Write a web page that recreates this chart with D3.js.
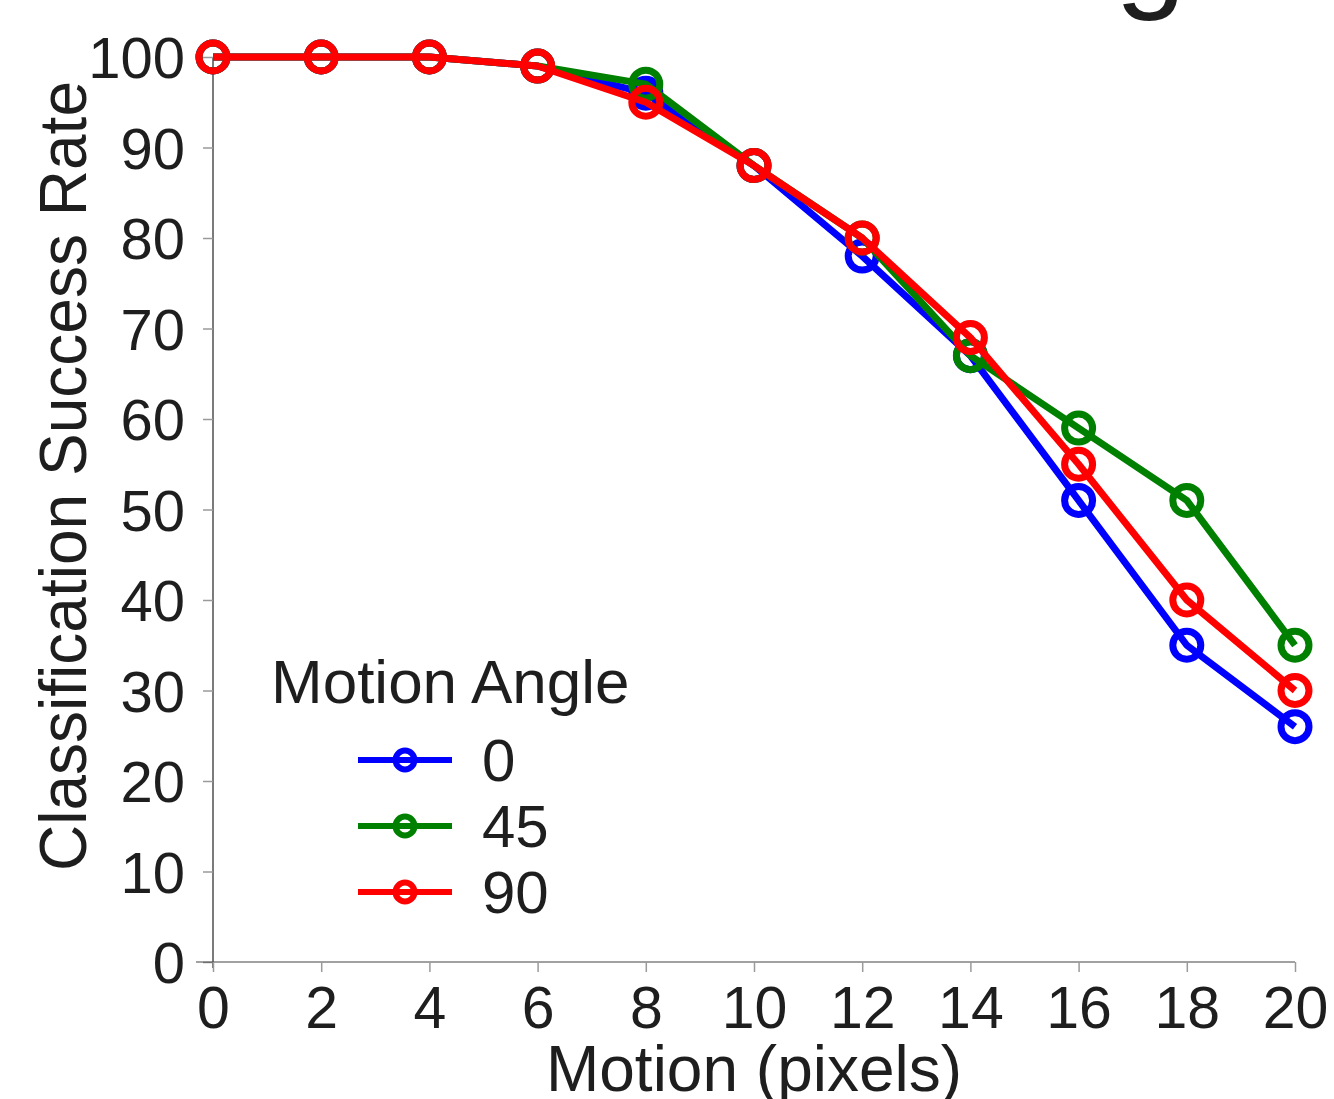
<!DOCTYPE html>
<html>
<head>
<meta charset="utf-8">
<script src="https://cdn.jsdelivr.net/npm/d3@7"></script>
<style>
  html, body { margin: 0; padding: 0; background: #fff; }
  svg { display: block; font-family: Arial, "Liberation Sans", sans-serif; }
</style>
</head>
<body>
<svg id="chart" width="1334" height="1099"></svg>
<script>
// ---- data ----
const motion = [0, 2, 4, 6, 8, 10, 12, 14, 16, 18, 20];
const angle0  = [100, 100, 100, 99, 96, 88, 78, 67, 51, 35, 26];
const angle45 = [100, 100, 100, 99, 97, 88, 80, 67, 59, 51, 35];
const angle90 = [100, 100, 100, 99, 95, 88, 80, 69, 55, 40, 30];
const seriesNames = ["0", "45", "90"];
const seriesColors = ["#0000ff", "#008000", "#ff0000"];
const yTicks = [0, 10, 20, 30, 40, 50, 60, 70, 80, 90, 100];
const xTicks = [0, 2, 4, 6, 8, 10, 12, 14, 16, 18, 20];

const series = [angle0, angle45, angle90].map((vals, i) => ({
  name: seriesNames[i], color: seriesColors[i],
  points: motion.map((m, j) => ({ x: m, y: vals[j] }))
}));

const svg = d3.select("#chart");
const x = d3.scaleLinear().domain([0, 20]).range([213, 1295]);
const y = d3.scaleLinear().domain([0, 100]).range([962, 57]);
const textColor = "#1e1e1e";

// partial title glyph cut off at top
svg.append("text").attr("x", 1115).attr("y", -6)
  .attr("font-size", 128).attr("fill", textColor).text("g");

// y axis
const yAxis = svg.append("g").attr("transform", "translate(213,0)")
  .call(d3.axisLeft(y).tickValues(yTicks).tickSize(10).tickPadding(18).tickSizeOuter(0));
yAxis.select(".domain").attr("stroke", "#222").attr("stroke-width", 1.2)
  .attr("d", `M0,${y(100)}V${y(0) + 6}`);
yAxis.selectAll(".tick line").attr("stroke", "#9a9a9a").attr("stroke-width", 1.5);
yAxis.selectAll(".tick text").attr("font-size", 58).attr("fill", textColor)
  .attr("font-family", "Arial, 'Liberation Sans', sans-serif").attr("dy", "0.36em");

// x axis
const xAxis = svg.append("g").attr("transform", "translate(0,962)")
  .call(d3.axisBottom(x).tickValues(xTicks).tickSize(10).tickPadding(14).tickSizeOuter(0));
xAxis.select(".domain").attr("stroke", "#444").attr("stroke-width", 1.2)
  .attr("d", `M${x(0) - 17},0H${x(20)}`);
xAxis.selectAll(".tick line").attr("stroke", "#9a9a9a").attr("stroke-width", 1.5);
xAxis.selectAll(".tick text").attr("font-size", 59).attr("fill", textColor)
  .attr("font-family", "Arial, 'Liberation Sans', sans-serif").attr("dy", "0.72em");

// axis titles
svg.append("text")
  .attr("transform", "translate(86,476) rotate(-90)")
  .attr("text-anchor", "middle").attr("font-size", 66).attr("fill", textColor)
  .attr("textLength", 790).attr("lengthAdjust", "spacingAndGlyphs")
  .text("Classification Success Rate");
svg.append("text")
  .attr("x", 754).attr("y", 1091)
  .attr("text-anchor", "middle").attr("font-size", 64).attr("fill", textColor)
  .text("Motion (pixels)");

// lines and markers
const line = d3.line().x(d => x(d.x)).y(d => y(d.y));
series.forEach(s => {
  const g = svg.append("g");
  g.append("path").datum(s.points).attr("d", line)
    .attr("fill", "none").attr("stroke", s.color).attr("stroke-width", 7)
    .attr("stroke-linejoin", "round");
  g.selectAll("circle").data(s.points).join("circle")
    .attr("cx", d => x(d.x)).attr("cy", d => y(d.y)).attr("r", 14)
    .attr("fill", "none").attr("stroke", s.color).attr("stroke-width", 7);
});

// legend
svg.append("text").attr("x", 271).attr("y", 703)
  .attr("font-size", 62).attr("fill", textColor).text("Motion Angle");
const legRows = [760, 826, 892];
series.forEach((s, i) => {
  const ly = legRows[i];
  svg.append("line").attr("x1", 358).attr("x2", 452).attr("y1", ly).attr("y2", ly)
    .attr("stroke", s.color).attr("stroke-width", 6);
  svg.append("circle").attr("cx", 405).attr("cy", ly).attr("r", 9.5)
    .attr("fill", "none").attr("stroke", s.color).attr("stroke-width", 6);
  svg.append("text").attr("x", 482).attr("y", ly + 21)
    .attr("font-size", 60).attr("fill", textColor).text(s.name);
});
</script>
</body>
</html>
